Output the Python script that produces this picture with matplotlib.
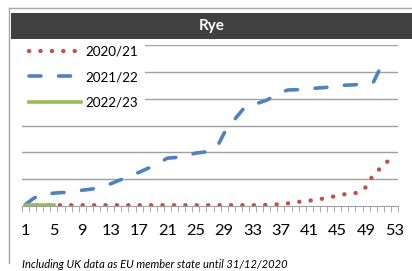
import matplotlib.pyplot as plt
from matplotlib.lines import Line2D
from matplotlib.patches import Rectangle
import numpy as np

plt.rcParams['font.family'] = ['Lato', 'DejaVu Sans']

# weekly values (no y scale shown, read in gridline units)
weeks_2021 = list(range(1, 53))
rye_2021 = [0.02, 0.02, 0.02, 0.02, 0.02, 0.02, 0.02, 0.02, 0.02, 0.02,
            0.02, 0.02, 0.02, 0.02, 0.02, 0.02, 0.02, 0.02, 0.02, 0.02,
            0.02, 0.02, 0.02, 0.02, 0.02, 0.02, 0.02, 0.02, 0.02, 0.02,
            0.02, 0.02, 0.02, 0.02, 0.03, 0.04, 0.06, 0.09, 0.13, 0.16,
            0.19, 0.22, 0.27, 0.32, 0.38, 0.43, 0.45, 0.50, 0.70, 1.15,
            1.40, 1.65]
weeks_2122 = list(range(1, 52))
rye_2122 = [0.05, 0.25, 0.41, 0.44, 0.47, 0.49, 0.50, 0.54, 0.58, 0.61,
            0.65, 0.73, 0.82, 0.93, 1.03, 1.14, 1.25, 1.37, 1.48, 1.63,
            1.78, 1.80, 1.83, 1.90, 1.97, 2.00, 2.05, 2.20, 2.72, 3.08,
            3.40, 3.72, 3.78, 3.86, 3.95, 4.10, 4.25, 4.33, 4.34, 4.35,
            4.38, 4.40, 4.42, 4.44, 4.47, 4.51, 4.52, 4.54, 4.57, 4.61,
            5.15]
weeks_2223 = [1, 2, 3, 4, 5]
rye_2223 = [0.03, 0.03, 0.03, 0.03, 0.03]

week_labels = list(range(1, 54, 4))

fig = plt.figure(figsize=(4.12, 2.71), dpi=100)

# frame + title bar
fig.add_artist(Line2D([9/412, 1], [1 - 8/271, 1 - 8/271], color='#a6a6a6', lw=1))
fig.add_artist(Line2D([9/412, 9/412], [1 - 8/271, 1 - 263/271], color='#a6a6a6', lw=1))
fig.add_artist(Rectangle((11/412, 1 - 39/271), 1 - 11/412, 26.3/271,
                         transform=fig.transFigure, color='#404040', lw=0))
fig.text(211.5/412, 1 - 26/271, 'Rye', color='white', fontsize=11,
         fontweight='bold', ha='center', va='center')

ax = fig.add_axes([22/412, 1 - 205.7/271, 376/412, 160.3/271])

ax.plot(weeks_2021, rye_2021, color='#c0504d', lw=3.1, dashes=(0.05, 2.6),
        dash_capstyle='round', label='2020/21')
ax.plot(weeks_2122, rye_2122, color='#4f81bd', lw=2.6, dashes=(3.3, 4.9),
        dash_capstyle='round', label='2021/22')
ax.plot(weeks_2223, rye_2223, color='#9bbb59', lw=2.6, label='2022/23')

ax.set_xlim(0.5, 53.5)
ax.set_ylim(0, 6)
ax.set_yticks([1, 2, 3, 4, 5, 6])
ax.set_yticklabels([])
ax.tick_params(axis='y', length=0)
ax.grid(axis='y', color='#a0a0a0', lw=1)
ax.set_axisbelow(True)

ax.set_xticks(week_labels)
ax.set_xticklabels([str(w) for w in week_labels], fontsize=11.8)
ax.set_xticks(np.arange(0.5, 54, 1), minor=True)
ax.tick_params(axis='x', which='major', length=0, pad=13.5)
ax.tick_params(axis='x', which='minor', length=4, color='#a0a0a0', direction='out')

for s in ['top', 'right', 'left']:
    ax.spines[s].set_visible(False)
ax.spines['bottom'].set_color('#a0a0a0')

leg = ax.legend(loc='upper left', bbox_to_anchor=(0, 1.04), borderaxespad=0,
                fontsize=9.7, handlelength=3.9, handletextpad=0.3,
                labelspacing=1.0, borderpad=0.5, frameon=True, fancybox=False)
leg.get_frame().set_facecolor('white')
leg.get_frame().set_edgecolor('none')
leg.get_frame().set_alpha(1)

fig.text(22/412, 1 - 264.5/271, 'Including UK data as EU member state until 31/12/2020',
         fontsize=8, style='italic', va='center', ha='left')

fig.savefig('out.png', dpi=100)
